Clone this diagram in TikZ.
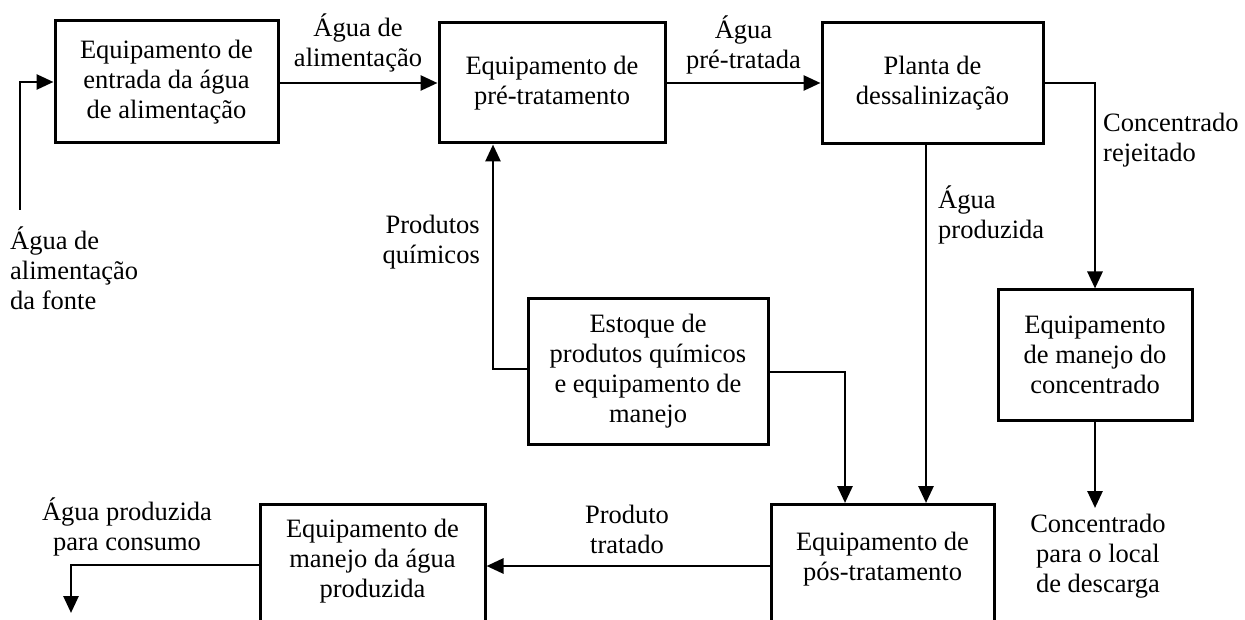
\documentclass[tikz,border=0pt]{standalone}
\usepackage{fontspec}
\setmainfont{Liberation Serif}
\usetikzlibrary{arrows.meta}
\begin{document}
\begin{tikzpicture}[x=1pt,y=-1pt,
  txt/.style={font=\fontsize{26.5}{30}\selectfont, inner sep=0pt},
  box/.style={draw, line width=3pt, txt, align=center},
  lab/.style={txt},
  arr/.style={line width=2.8pt, -{Triangle[width=15pt,length=17pt]}},
  ln/.style={line width=2.8pt}]
\useasboundingbox (0,0) rectangle (1245,620);
% boxes
\node[box, minimum width=223, minimum height=122] (b1) at (166.5,82) {Equipamento de\\entrada da água\\de alimentação};
\node[box, minimum width=226, minimum height=120] (b2) at (552,83) {Equipamento de\\pré-tratamento};
\node[box, minimum width=221, minimum height=121] (b3) at (932.5,83.5) {Planta de\\dessalinização};
\node[box, minimum width=194, minimum height=130] (b4) at (1095,355) {Equipamento\\de manejo do\\concentrado};
\node[box, minimum width=240, minimum height=145] (est) at (648,371.5) {Estoque de\\produtos químicos\\e equipamento de\\manejo};
\node[box, minimum width=223, minimum height=140, anchor=north] (b5) at (882.5,503) {};
\node[lab, align=center] (b5t) at (882.5,559) {Equipamento de\\pós-tratamento};
\node[box, minimum width=225, minimum height=140, anchor=north] (b6) at (372.5,503) {};
\node[lab, align=center] (b6t) at (372.5,561) {Equipamento de\\manejo da água\\produzida};
% free ends
\coordinate (src) at (20,210);
\coordinate (out) at (71,613);
\coordinate (dis) at (1095,508);
% connectors
\draw[arr] (src) |- (b1.west);
\draw[arr] (b1.east |- 0,83) -- (b2.west |- 0,83);
\draw[arr] (b2.east |- 0,83) -- (b3.west |- 0,83);
\draw[arr] (b3.east |- 0,83) -| (b4.north);
\draw[arr] (b3.south -| 926,0) -- (b5.north -| 926,0);
\draw[arr] (b4.south) -- (dis);
\draw[arr] (est.west |- 0,369) -| (b2.south -| 493,0);
\draw[arr] (est.east |- 0,372) -| (b5.north -| 845,0);
\draw[arr] (b5.west |- 0,566) -- (b6.east |- 0,566);
\draw[arr] (b6.west |- 0,565) -| (out);
% labels
\node[lab, align=center] (l1) at (358,42.5) {Água de\\alimentação};
\node[lab, align=center] (l2) at (743.5,44.5) {Água\\pré-tratada};
\node[lab, align=left, anchor=west] (l3) at (1103,140) {Concentrado\\rejeitado};
\node[lab, align=left, anchor=west] (l4) at (938,215) {Água\\produzida};
\node[lab, align=right, anchor=east] (l5) at (480,242) {Produtos\\químicos};
\node[lab, align=left, anchor=west] (l6) at (10,268) {Água de\\alimentação\\da fonte};
\node[lab, align=center] (l7) at (627,529) {Produto\\tratado};
\node[lab, align=center] (l8) at (127,527) {Água produzida\\para consumo};
\node[lab, align=center] (l9) at (1098,556) {Concentrado\\para o local\\de descarga};
\end{tikzpicture}
\end{document}
